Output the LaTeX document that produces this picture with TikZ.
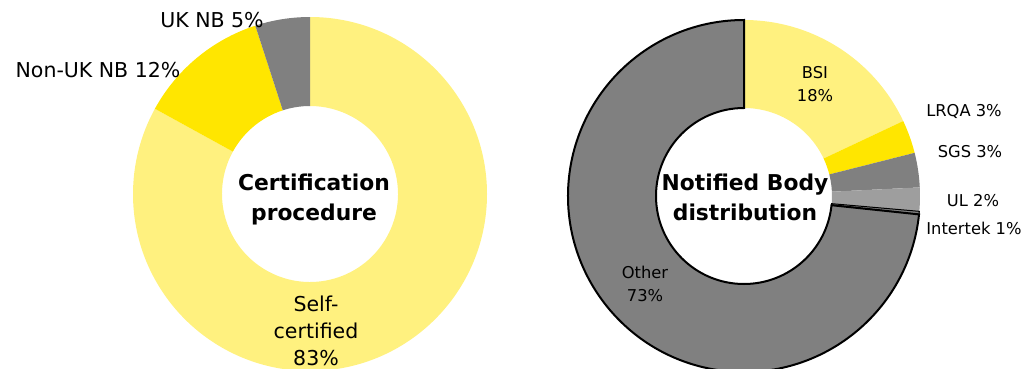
\documentclass[tikz,border=0pt]{standalone}
\usepackage{fontspec}
\setmainfont{DejaVu Sans}
\definecolor{ltyel}{HTML}{FFF17F}
\definecolor{eyyel}{HTML}{FFE600}
\definecolor{midgray}{HTML}{808080}
\definecolor{ltgray}{HTML}{9E9E9E}
\newcommand\annsec[5]{\fill[#1] (#2:#4) arc[start angle=#2,end angle=#3,radius=#4] -- (#3:#5) arc[start angle=#3,end angle=#2,radius=#5] -- cycle;}
\newcommand\annout[5]{\draw[#1] (#2:#4) arc[start angle=#2,end angle=#3,radius=#4] -- (#3:#5) arc[start angle=#3,end angle=#2,radius=#5] -- cycle;}
\tikzset{
  title/.style={inner sep=0pt, align=center, font=\bfseries\fontsize{21.8}{30}\selectfont},
  biglab/.style={inner sep=0pt, align=center, font=\fontsize{20.5}{27}\selectfont},
  smalllab/.style={inner sep=0pt, align=center, font=\fontsize{16.3}{23}\selectfont},
}
\begin{document}
\begin{tikzpicture}[x=1pt,y=1pt]
\useasboundingbox (0,0) rectangle (1023,368);
\clip (0,0) rectangle (1023,368);
% left donut
\begin{scope}[shift={(310,174)}]
  \annsec{ltyel}{90}{-208.8}{177}{88}
  \annsec{eyyel}{151.2}{108}{177}{88}
  \annsec{midgray}{108}{90}{177}{88}
\end{scope}
% right donut
\begin{scope}[shift={(744,172)}]
  \annsec{ltyel}{90}{25.2}{176}{88}
  \annsec{eyyel}{25.2}{14.2}{176}{88}
  \annsec{midgray}{14.2}{2.8}{176}{88}
  \annsec{ltgray}{2.8}{-5}{176}{88}
  \annsec{midgray}{-5}{-6}{176}{88}
  \annout{black,line width=1pt}{-5}{-6}{176}{88}
  \annsec{midgray}{-6}{-270}{176}{88}
  \annout{black,line width=2pt,line join=miter}{-6}{-270}{176}{88}
\end{scope}
% labels left
\node[title] (t1) at (314,169) {Certification\\procedure};
\node[biglab] (self) at (316,37) {Self-\\certified\\83\%};
\node[biglab] (uknb) at (212,348) {UK NB 5\%};
\node[biglab] (nonuk) at (98,298) {Non-UK NB 12\%};
% labels right
\node[title] (t2) at (745,171) {Notified Body\\distribution};
\node[smalllab] (bsi) at (815,283.5) {BSI\\18\%};
\node[smalllab] (lrqa) at (964,256) {LRQA 3\%};
\node[smalllab] (sgs) at (970,216) {SGS 3\%};
\node[smalllab] (ul) at (973,167) {UL 2\%};
\node[smalllab] (intertek) at (974,140) {Intertek 1\%};
\node[smalllab] (other) at (645,84.5) {Other\\73\%};
\end{tikzpicture}
\end{document}
